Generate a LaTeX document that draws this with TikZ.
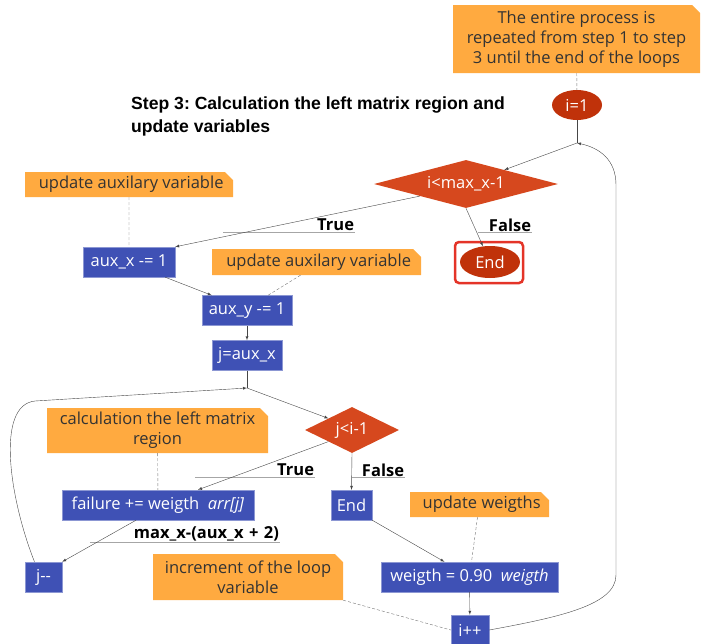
\documentclass[tikz,border=0pt]{standalone}
\usepackage{fontspec}
\setmainfont{Open Sans}
\newfontfamily\titlefont{Liberation Sans}
\usetikzlibrary{shapes,arrows,positioning}
\definecolor{notecol}{RGB}{255,170,64}
\definecolor{boxcol}{RGB}{63,81,181}
\definecolor{deccol}{RGB}{214,72,30}
\definecolor{startcol}{RGB}{192,50,10}
\definecolor{hilite}{RGB}{228,52,40}
\definecolor{linecol}{RGB}{70,70,70}
\newcommand{\flowfont}{\fontsize{16.5}{20}\selectfont}
\tikzset{
note/.style={chamfered rectangle, chamfered rectangle corners=north east,
  chamfered rectangle xsep=4pt, chamfered rectangle ysep=4pt,
  fill=notecol, text=black!80, align=center, inner sep=0pt},
box/.style={rectangle, fill=boxcol, draw=boxcol!60!white, text=white, inner sep=0pt, minimum height=30pt},
decision/.style={diamond, fill=deccol, text=white, inner sep=0pt},
terminal/.style={ellipse, fill=startcol, text=white, inner sep=0pt},
lbl/.style={font=\flowfont\bfseries, align=right, inner sep=1pt},
uline/.style={draw=gray!70, line width=0.8pt},
flow/.style={draw=linecol, ->, >=latex},
link/.style={draw=black!55, densely dashed}
}
\begin{document}
\begin{tikzpicture}[x=1pt, y=-1pt, font=\flowfont]
  \useasboundingbox (0,0) rectangle (701,643);
  % title
  \node[anchor=north west, align=left, inner sep=0pt,
    font=\titlefont\bfseries\fontsize{17.6}{23}\selectfont] (title) at (131,97)
    {Step 3:\ Calculation the left matrix region and\\update variables};
  % notes
  \node[note, minimum width=247pt, minimum height=68pt] (ntop) at (576.5,39)
    {The entire process is\\repeated from step 1 to step\\3 until the end of the loops};
  \node[note, minimum width=208pt, minimum height=25pt] (naux1) at (129,184.5) {\ update auxilary variable};
  \node[note, minimum width=209pt, minimum height=26pt] (naux2) at (316.5,262) {\ update auxilary variable};
  \node[note, minimum width=221pt, minimum height=45pt] (ncalc) at (157.5,430.5) {calculation the left matrix\\region};
  \node[note, minimum width=139pt, minimum height=25pt] (nweig) at (479.5,504.5) {\ update weigths};
  \node[note, minimum width=190pt, minimum height=46pt] (ninc) at (248,577) {increment of the loop\\variable};
  % start and end
  \node[terminal, minimum width=50pt, minimum height=30pt] (start) at (577,105) {i=1};
  \node[terminal, minimum width=60pt, minimum height=32pt] (stop) at (490,262) {End};
  \draw[hilite, line width=2.5pt, rounded corners=4pt] (455,242) rectangle (523,283);
  % decisions
  \node[decision, aspect=4, minimum width=184pt, minimum height=48pt] (dimax) at (466,184) {i<max\_x-1};
  \node[decision, aspect=2, minimum width=94pt, minimum height=46pt] (dj) at (352,430) {j<i-1};
  % process boxes
  \node[box, minimum width=92pt] (auxx) at (129,262) {aux\_x -= 1};
  \node[box, minimum width=90pt] (auxy) at (247,310.5) {aux\_y -= 1};
  \node[box, minimum width=70pt] (jaux) at (247,355.5) {j=aux\_x};
  \node[box, minimum width=192pt] (fail) at (158,505) {failure += weigth \ \textit{arr[j]}};
  \node[box, minimum width=41pt] (endj) at (351.5,505) {End};
  \node[box, minimum width=37pt] (jdec) at (43.5,577) {j{-}{-}};
  \node[box, minimum width=177pt] (weig) at (469.5,577) {weigth = 0.90 \ \textit{weigth}};
  \node[box, minimum width=38pt] (iinc) at (470,630) {i++};
  % junctions
  \coordinate (ji) at (577,143);
  \coordinate (jj) at (247,388);
  % edge labels
  \node[lbl, text width=130pt] (ltrue1) at (289,225) {True};
  \node[lbl, text width=52pt] (lfalse1) at (505,225) {False};
  \node[lbl, text width=118pt] (ltrue2) at (255,470) {True};
  \node[lbl, text width=51pt] (lfalse2) at (378.5,470) {False};
  \node[lbl, text width=188pt] (lmax) at (185,534) {max\_x-(aux\_x + 2)};
  \foreach \l in {ltrue1,lfalse1,ltrue2,lfalse2,lmax}
    \draw[uline] (\l.south west) -- (\l.south east);
  % flow
  \draw[draw=linecol] (start) -- (ji);
  \draw[flow] (ji) -- (dimax);
  \draw[flow] (dimax.south west) -- (auxx.north east);
  \draw[flow] (dimax.south) -- (stop);
  \draw[flow] ([xshift=-10pt]auxx.south east) -- ([xshift=10pt]auxy.north west);
  \draw[flow] (auxy) -- (jaux);
  \draw[draw=linecol] (jaux) -- (jj);
  \draw[flow] (jj) -- (dj.north west);
  \draw[flow] (dj.south west) -- ([xshift=40pt]fail.north);
  \draw[flow] (dj.south) -- (endj.north);
  \draw[flow] ([xshift=-22pt]fail.south) -- (jdec.north east);
  \draw[flow] (endj.south east) -- ([xshift=-25pt]weig.north);
  \draw[flow] (weig) -- (iinc);
  % loops back
  \draw[flow] ([xshift=-9pt]jdec.north) .. controls (10,500) and (-5,405) .. (35,401) -- (jj);
  \draw[flow] (iinc.east) .. controls (560,617) and (616,605) .. (616,575)
    -- (616,185) .. controls (616,160) and (600,148) .. (ji);
  % notes to steps
  \draw[link] (ntop) -- (start);
  \draw[link] (naux1) -- (auxx);
  \draw[link] ([xshift=-16pt]naux2.south) -- ([xshift=21pt]auxy.north);
  \draw[link] (ncalc) -- (fail);
  \draw[link] ([xshift=-2pt]nweig.south) -- ([xshift=2pt]weig.north);
  \draw[link] (ninc.south east) -- (iinc.west);
\end{tikzpicture}
\end{document}
